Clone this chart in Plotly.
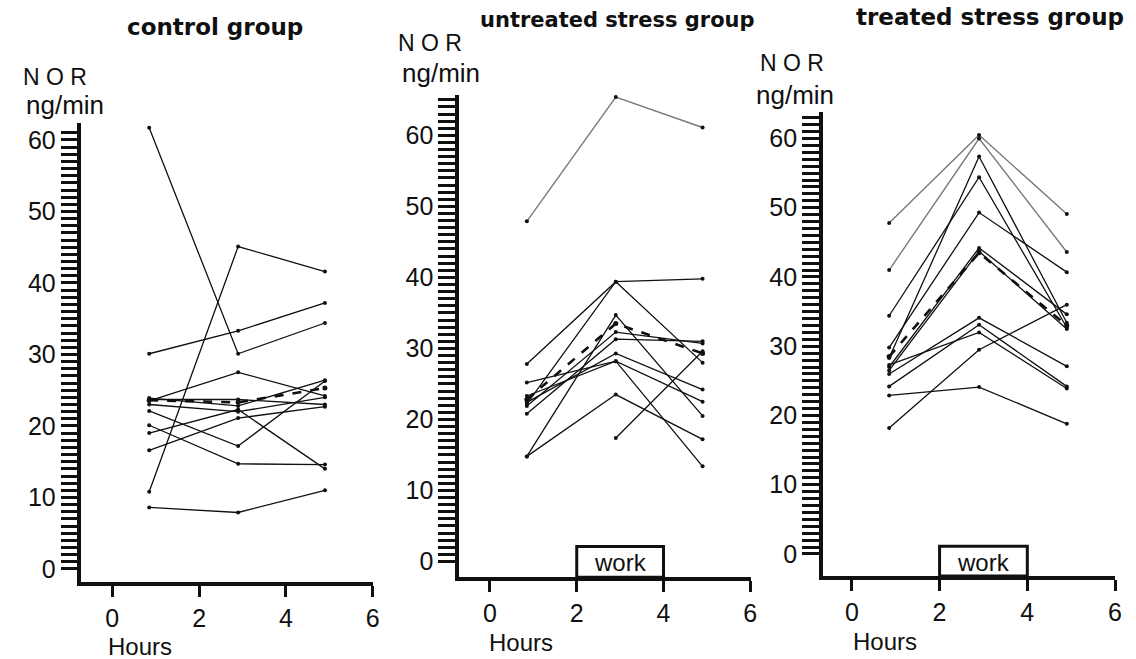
import plotly.graph_objects as go

# Sampling times (hours)
hours = [0.85, 2.9, 4.9]

# NOR excretion (ng/min), one list per subject
control_subjects = [
    [61.7, 30.1, 34.4],
    [30.1, 33.3, 37.2],
    [10.8, 45.1, 41.6],
    [8.6, 7.9, 11.0],
    [16.6, 21.1, 22.7],
    [22.1, 17.2, 26.3],
    [20.1, 14.7, 14.6],
    [19.0, 22.3, 14.0],
    [23.5, 27.5, 24.2],
    [23.9, 22.8, 26.4],
    [23.0, 22.0, 24.0],
    [23.7, 23.7, 23.0],
]
control_mean = [23.6, 23.3, 25.3]

untreated_grey = [
    [47.9, 65.4, 61.1],
]
untreated_subjects = [
    [27.8, 39.4, 39.8],
    [22.2, 39.4, 28.0],
    [14.8, 34.7, 20.5],
    [14.8, 23.5, 17.2],
    [25.2, 28.2, 13.4],
    [22.4, 29.3, 24.2],
    [23.3, 28.2, 22.5],
    [20.8, 31.3, 31.0],
    [21.9, 32.3, 30.7],
    [None, 17.4, 29.6],
]
untreated_mean = [22.8, 33.5, 29.3]

treated_grey = [
    [47.8, 60.5, 49.1],
    [41.0, 60.0, 43.6],
]
treated_subjects = [
    [34.4, 54.4, 32.7],
    [28.3, 57.4, 33.4],
    [29.8, 49.3, 40.7],
    [27.0, 44.2, 34.6],
    [26.5, 43.7, 32.5],
    [26.0, 34.1, 27.1],
    [24.2, 33.1, 24.2],
    [27.3, 32.0, 23.9],
    [18.2, 29.5, 36.0],
    [22.9, 24.1, 18.8],
]
treated_mean = [28.5, 43.5, 33.0]

group_titles = ["control group", "untreated stress group", "treated stress group"]
x_ticks = [0, 2, 4, 6]
work_period = [2, 4]

W, H = 1136, 659
INK = "#101010"
GREY = "#7a7a7a"
FONT = "Liberation Sans, Arial, sans-serif"
TITLE_FONT = "DejaVu Sans, Verdana, sans-serif"

# panel geometry: (x-domain, y-domain, x-range, y-range, top tick)
panels = [
    dict(xd=[82 / W, 375.4 / W], yd=[1 - 583 / H, 1 - 123 / H],
         xr=[-0.71, 6.01], yr=[-1.84, 62.4], ytop=61),
    dict(xd=[462 / W, 755.4 / W], yd=[1 - 578 / H, 1 - 95 / H],
         xr=[-0.71, 6.01], yr=[-2.2, 65.7], ytop=65),
    dict(xd=[828 / W, 1122.4 / W], yd=[1 - 577 / H, 1 - 112 / H],
         xr=[-0.66, 6.01], yr=[-3.2, 63.85], ytop=63),
]

fig = go.Figure()


def add_series(idx, values, color=INK, width=1.3, dash="solid", msize=4):
    suffix = "" if idx == 0 else str(idx + 1)
    fig.add_trace(go.Scatter(
        x=hours, y=values, mode="lines+markers",
        line=dict(color=color, width=width, dash=dash),
        marker=dict(color=INK, size=msize),
        connectgaps=False, showlegend=False, hoverinfo="skip",
        xaxis="x" + suffix, yaxis="y" + suffix,
    ))


for s in control_subjects:
    add_series(0, s)
add_series(0, control_mean, width=2.6, dash="dash", msize=5)

for s in untreated_grey:
    add_series(1, s, color=GREY, width=1.4)
for s in untreated_subjects:
    add_series(1, s)
add_series(1, untreated_mean, width=2.6, dash="dash", msize=5)

for s in treated_grey:
    add_series(2, s, color=GREY, width=1.4)
for s in treated_subjects:
    add_series(2, s)
add_series(2, treated_mean, width=2.6, dash="dash", msize=5)

layout = dict(
    width=W, height=659, autosize=False,
    margin=dict(l=0, r=0, t=0, b=0),
    paper_bgcolor="white", plot_bgcolor="white",
    font=dict(family=FONT, color=INK),
    showlegend=False,
)

for i, p in enumerate(panels):
    suffix = "" if i == 0 else str(i + 1)
    yvals = list(range(0, p["ytop"] + 1))
    ytext = [str(v) if v % 10 == 0 else "" for v in yvals]
    layout["xaxis" + suffix] = dict(
        domain=p["xd"], range=p["xr"], anchor="y" + suffix,
        showgrid=False, zeroline=False,
        showline=True, linecolor=INK, linewidth=3.5,
        ticks="outside", ticklen=11, tickwidth=3, tickcolor=INK,
        tickvals=x_ticks, ticktext=[str(t) for t in x_ticks],
        tickfont=dict(size=25, family=FONT, color=INK),
        fixedrange=True,
    )
    layout["yaxis" + suffix] = dict(
        domain=p["yd"], range=p["yr"], anchor="x" + suffix,
        showgrid=False, zeroline=False,
        showline=True, linecolor=INK, linewidth=3.5,
        ticks="outside", ticklen=17, tickwidth=3.2, tickcolor=INK,
        tickvals=yvals, ticktext=ytext,
        tickfont=dict(size=25, family=FONT, color=INK),
        fixedrange=True,
    )

fig.update_layout(**layout)


def px_to_paper(x, y):
    return x / W, 1 - y / H


annotations = []
# group titles
for (cx, cy, size), title in zip([(216, 27, 23), (621, 20, 21), (996, 17, 23)], group_titles):
    px, py = px_to_paper(cx, cy)
    annotations.append(dict(x=px, y=py, xref="paper", yref="paper", text="<b>" + title + "</b>",
                            showarrow=False, font=dict(size=size, family=TITLE_FONT, color=INK),
                            xanchor="center", yanchor="middle"))

# y-axis unit labels
for (nx, ny), (ux, uy) in [((55, 77), (65, 105)), ((433, 43), (444, 73)), ((797, 63), (800, 95))]:
    px, py = px_to_paper(nx, ny)
    annotations.append(dict(x=px, y=py, xref="paper", yref="paper", text="N O R",
                            showarrow=False, font=dict(size=23, family=FONT, color=INK),
                            xanchor="center", yanchor="middle"))
    px, py = px_to_paper(ux, uy)
    annotations.append(dict(x=px, y=py, xref="paper", yref="paper", text="ng/min",
                            showarrow=False, font=dict(size=26, family=FONT, color=INK),
                            xanchor="center", yanchor="middle"))

# x-axis titles
for hx, hy in [(141, 647), (524, 643), (890, 642)]:
    px, py = px_to_paper(hx, hy)
    annotations.append(dict(x=px, y=py, xref="paper", yref="paper", text="Hours",
                            showarrow=False, font=dict(size=24, family=FONT, color=INK),
                            xanchor="center", yanchor="middle"))

# work period boxes on the stress panels
shapes = []
for i in (1, 2):
    suffix = str(i + 1)
    p = panels[i]
    shapes.append(dict(type="rect", xref="x" + suffix, yref="y" + suffix,
                       x0=work_period[0], x1=work_period[1], y0=p["yr"][0], y1=p["yr"][0] + 4.3,
                       line=dict(color=INK, width=3), fillcolor="rgba(0,0,0,0)"))
    annotations.append(dict(x=(work_period[0] + work_period[1]) / 2, y=p["yr"][0] + 2.0,
                            xref="x" + suffix, yref="y" + suffix, text="work",
                            showarrow=False, font=dict(size=24, family=FONT, color=INK),
                            xanchor="center", yanchor="middle"))

fig.update_layout(annotations=annotations, shapes=shapes)

fig.write_html("out.html")
